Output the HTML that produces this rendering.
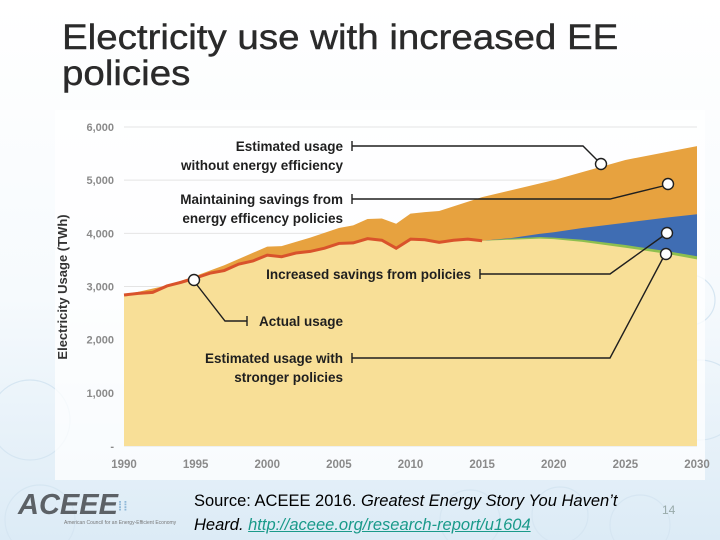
<!DOCTYPE html>
<html><head><meta charset="utf-8"><style>
html,body{margin:0;padding:0}
body{width:720px;height:540px;overflow:hidden;position:relative;font-family:"Liberation Sans",Arial,sans-serif;background:linear-gradient(180deg,#ffffff 0%,#f6fafd 55%,#dcebf6 100%)}
.title{position:absolute;left:62px;top:20px;font-size:35px;line-height:36px;color:#2a2a2a;transform:scaleX(1.1);transform-origin:0 0;-webkit-text-stroke:0.4px #2a2a2a;white-space:nowrap}
.src{position:absolute;left:194px;top:489px;font-size:16.5px;line-height:24px;color:#000}
.src a{color:#1a9a8a;text-decoration:underline}
.pg{position:absolute;left:662px;top:503px;font-size:12px;color:#9aa}
</style></head><body>
<svg width="720" height="540" style="position:absolute;left:0;top:0">
<g fill="none" stroke="#d6e6f2" stroke-width="1.2">
<circle cx="30" cy="420" r="40"/><circle cx="40" cy="520" r="35"/><circle cx="700" cy="400" r="40"/><circle cx="690" cy="300" r="25"/><circle cx="470" cy="520" r="30"/><circle cx="560" cy="515" r="28"/><circle cx="640" cy="525" r="30"/>
</g>
<rect x="55" y="110" width="650" height="370" fill="#ffffff" opacity="0.75"/>
</svg>
<div class="title">Electricity use with increased EE<br>policies</div>
<svg id="chart" width="720" height="540" style="position:absolute;left:0;top:0"></svg>
<div style="position:absolute;left:18px;top:490px;width:170px;height:45px">
<div style="font-size:29px;font-weight:bold;font-style:italic;color:#5c6166;letter-spacing:0px;line-height:30px">ACEEE<span style="font-size:13px;color:#8fb8d8;letter-spacing:1px;font-style:normal;vertical-align:middle">⁞⁞</span></div>
<div style="font-size:5px;color:#777;margin-left:46px;margin-top:-1px;white-space:nowrap">American Council for an Energy-Efficient Economy</div>
</div>
<div class="src">Source: ACEEE 2016. <i>Greatest Energy Story You Haven’t</i><br><i>Heard. <a>http://aceee.org/research-report/u1604</a></i></div>
<div class="pg">14</div>
<script>
const actualYears=[1990,1991,1992,1993,1994,1995,1996,1997,1998,1999,2000,2001,2002,2003,2004,2005,2006,2007,2008,2009,2010,2011,2012,2013,2014,2015];
const actualVals=[2840,2870,2890,3010,3080,3160,3250,3300,3420,3480,3590,3560,3630,3660,3720,3810,3820,3900,3870,3720,3890,3880,3830,3870,3890,3860];
const noEEYears=[1990,1993,1995,1997,2000,2001,2003,2005,2006,2007,2008,2009,2010,2011,2012,2015,2020,2025,2030];
const noEEVals=[2840,3020,3200,3400,3750,3760,3920,4100,4150,4270,4280,4180,4370,4400,4420,4680,5000,5380,5640];
const projYears=[2015,2017,2019,2020,2022,2025,2028,2030];
const maintainVals=[3860,3910,3990,4020,4100,4200,4300,4360];
const currentVals=[3860,3900,3930,3920,3880,3780,3660,3570];
const strongerVals=[3860,3880,3900,3890,3840,3730,3610,3510];
const yTicks=[0,1000,2000,3000,4000,5000,6000];
const yTickLabels=["-","1,000","2,000","3,000","4,000","5,000","6,000"];
const xTicks=[1990,1995,2000,2005,2010,2015,2020,2025,2030];

const NS="http://www.w3.org/2000/svg";
const svg=document.getElementById('chart');
const X=y=>124+(y-1990)*(697-124)/40;
const Y=v=>446-v*(446-127)/6000;
function el(t,a,p){const e=document.createElementNS(NS,t);for(const k in a)e.setAttribute(k,a[k]);(p||svg).appendChild(e);return e;}
function pts(xs,vs){return xs.map((x,i)=>X(x)+','+Y(vs[i])).join(' ');}

yTicks.forEach((t,i)=>{
 const g=el('line',{x1:124,x2:697,y1:Y(t),y2:Y(t),stroke:'#e4e4e4','stroke-width':1});
 
 
 const l=el('text',{x:114,y:Y(t)+4,'text-anchor':'end','font-size':11,'font-weight':'bold',fill:'#8a8a8a'});
 l.textContent=yTickLabels[i];
 
 
});
xTicks.forEach(t=>{
 const l=el('text',{x:X(t),y:468,'text-anchor':'middle','font-size':11.5,'font-weight':'bold',fill:'#8a8a8a'});
 l.textContent=t;
 
 
});
const yt=el('text',{transform:'translate(67,287) rotate(-90)','text-anchor':'middle','font-size':13,'font-weight':'bold',fill:'#333'});
yt.textContent='Electricity Usage (TWh)';



const a1=el('polygon',{points:pts(noEEYears,noEEVals)+' '+X(2030)+','+Y(0)+' '+X(1990)+','+Y(0),fill:'#e7a23f'});


const a2=el('polygon',{points:pts(projYears,maintainVals)+' '+X(2030)+','+Y(0)+' '+X(2015)+','+Y(0),fill:'#3f6db3'});


const a3=el('polygon',{points:pts(projYears,currentVals)+' '+X(2030)+','+Y(0)+' '+X(2015)+','+Y(0),fill:'#8dbf4f'});


const a4=el('polygon',{points:pts(actualYears,actualVals)+' '+pts(projYears.slice(1),strongerVals.slice(1))+' '+X(2030)+','+Y(0)+' '+X(1990)+','+Y(0),fill:'#f8df97'});


const ln=el('polyline',{points:pts(actualYears,actualVals),fill:'none',stroke:'#d9532b','stroke-width':3});



function callout(name,lines,tx,ty,path,cx,cy,anchorX){
 const g=el('g',{});
 
 
 lines.forEach((s,i)=>{const t=el('text',{x:tx,y:ty+i*19,'text-anchor':'end','font-size':13.5,'font-weight':'bold',fill:'#1f1f1f'},g);t.textContent=s;});
 el('polyline',{points:path,fill:'none',stroke:'#1f1f1f','stroke-width':1.4},g);
 el('line',{x1:anchorX[0],x2:anchorX[0],y1:anchorX[1]-5,y2:anchorX[1]+5,stroke:'#1f1f1f','stroke-width':1.4},g);
 el('circle',{cx:cx,cy:cy,r:5.5,fill:'#fff',stroke:'#1f1f1f','stroke-width':1.4},g);
}
callout('callout-without-efficiency',['Estimated usage','without energy efficiency'],343,151,'352,146 583,146 597,160',601,164,[352,146]);
callout('callout-maintaining-savings',['Maintaining savings from','energy efficency policies'],343,204,'352,199 610,199 663,186',668,184,[352,199]);
callout('callout-increased-savings',['Increased savings from policies'],471,279,'480,274 610,274 663,236',667,233,[480,274]);
callout('callout-actual-usage',['Actual usage'],343,326,'197,285 225,321 247,321',194,280,[247,321]);
callout('callout-stronger-policies',['Estimated usage with','stronger policies'],343,363,'352,358 610,358 663,258',666,254,[352,358]);
</script>
</body></html>
